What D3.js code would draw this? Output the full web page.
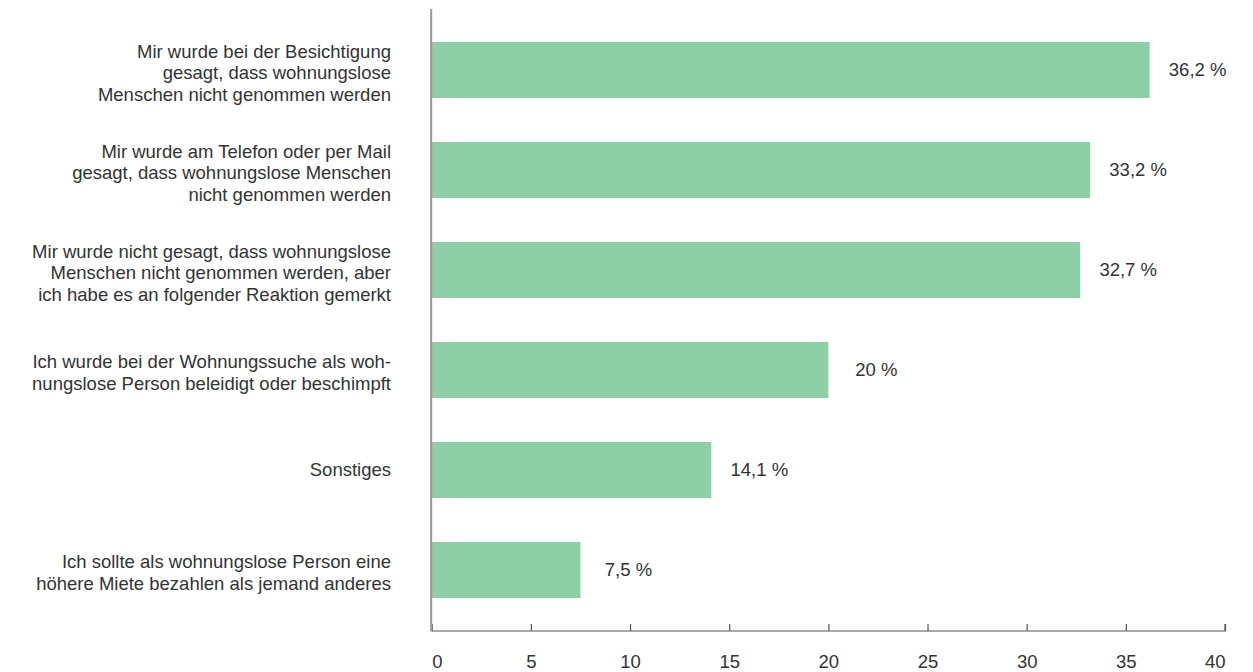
<!DOCTYPE html>
<html>
<head>
<meta charset="utf-8">
<script src="https://cdn.jsdelivr.net/npm/d3@7"></script>
<style>
  html, body { margin: 0; padding: 0; background: #fff; }
  svg { display: block; font-family: "Liberation Sans", Arial, sans-serif; }
</style>
</head>
<body>
<svg id="chart" width="1253" height="672"></svg>
<script>
const categories = [
  ["Mir wurde bei der Besichtigung", "gesagt, dass wohnungslose", "Menschen nicht genommen werden"],
  ["Mir wurde am Telefon oder per Mail", "gesagt, dass wohnungslose Menschen", "nicht genommen werden"],
  ["Mir wurde nicht gesagt, dass wohnungslose", "Menschen nicht genommen werden, aber", "ich habe es an folgender Reaktion gemerkt"],
  ["Ich wurde bei der Wohnungssuche als woh-", "nungslose Person beleidigt oder beschimpft"],
  ["Sonstiges"],
  ["Ich sollte als wohnungslose Person eine", "höhere Miete bezahlen als jemand anderes"]
];
const values = [36.2, 33.2, 32.7, 20, 14.1, 7.5];
const valueLabels = ["36,2 %", "33,2 %", "32,7 %", "20 %", "14,1 %", "7,5 %"];
const tickValues = [0, 5, 10, 15, 20, 25, 30, 35, 40];

const FS = 18.5;
const svg = d3.select("#chart");
const x = d3.scaleLinear().domain([0, 40]).range([431.7, 1225]);
const y = d3.scaleBand().domain(d3.range(values.length)).range([20, 620]).paddingInner(0.44).paddingOuter(0.22);

// bars
svg.append("g").selectAll("rect").data(values).join("rect")
  .attr("x", x(0))
  .attr("y", (d, i) => y(i))
  .attr("width", d => x(d) - x(0))
  .attr("height", y.bandwidth())
  .attr("fill", "#8ecfa8");

// value labels
svg.append("g").selectAll("text").data(values).join("text")
  .attr("x", d => x(d) + 48)
  .attr("y", (d, i) => y(i) + y.bandwidth() / 2)
  .attr("dy", "0.35em")
  .attr("text-anchor", "middle")
  .attr("font-size", FS)
  .attr("fill", "#333")
  .text((d, i) => valueLabels[i]);

// category labels
const lh = 21.8;
const cat = svg.append("g").selectAll("text").data(categories).join("text")
  .attr("x", 391)
  .attr("text-anchor", "end")
  .attr("font-size", FS)
  .attr("fill", "#333")
  .attr("y", (d, i) => y(i) + y.bandwidth() / 2 + 5.8 + (d.length > 1 ? 3.5 : 0) - (d.length - 1) * lh / 2);
cat.each(function(lines) {
  d3.select(this).selectAll("tspan").data(lines).join("tspan")
    .attr("x", 391)
    .attr("dy", (l, j) => j === 0 ? 0 : lh)
    .text(l => l);
});

// x axis
const xAxis = d3.axisBottom(x).tickValues(tickValues).tickSize(-7).tickPadding(0).tickFormat(d3.format("d"));
const gx = svg.append("g").attr("transform", "translate(0,631)").call(xAxis);
gx.select(".domain").attr("stroke", "#555").attr("stroke-width", 1.2).attr("d", `M${x(0)},-7V0H${x(40)}V-7`);
gx.selectAll(".tick line").attr("stroke", "#555").attr("stroke-width", 1.2);
gx.selectAll(".tick text")
  .attr("font-size", FS)
  .attr("fill", "#333")
  .attr("font-family", "Liberation Sans, Arial, sans-serif")
  .attr("y", 37)
  .attr("dy", 0)
  .attr("text-anchor", d => d === 0 ? "start" : (d === 40 ? "end" : "middle"));

// y axis line
svg.append("line")
  .attr("x1", x(0) - 0.5).attr("x2", x(0) - 0.5)
  .attr("y1", 9).attr("y2", 631)
  .attr("stroke", "#999").attr("stroke-width", 2);
</script>
</body>
</html>
